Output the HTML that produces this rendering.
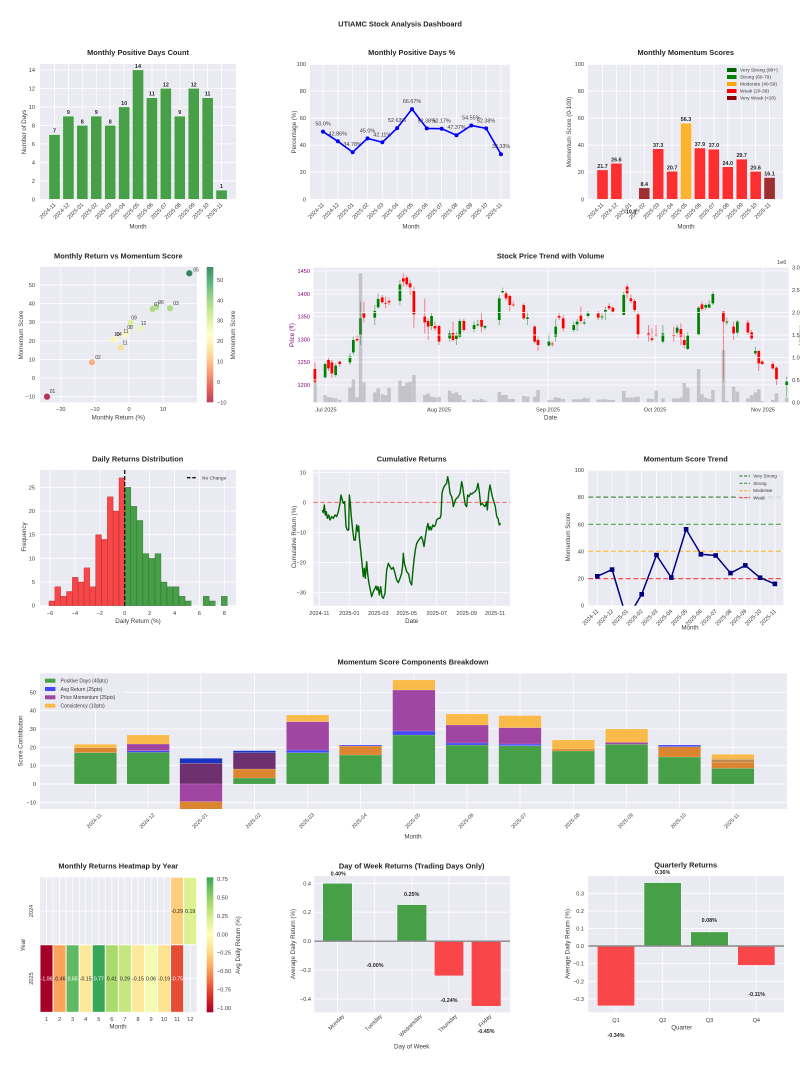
<!DOCTYPE html>
<html><head><meta charset="utf-8"><style>
html,body{margin:0;padding:0;background:#fff}
svg{display:block;font-family:"Liberation Sans",Arial,sans-serif}
.ti{font-size:7.4px;font-weight:bold;fill:#262626;text-anchor:middle}
.tk{font-size:5.6px;fill:#3a3a3a}
.e{text-anchor:end}
.m{text-anchor:middle}
.al{font-size:6.2px;fill:#3a3a3a;text-anchor:middle}
.vl{font-size:5.4px;font-weight:bold;fill:#262626;text-anchor:middle}
.pl{font-size:5.4px;fill:#3a3a3a;text-anchor:middle}
.lg{font-size:4.8px;fill:#3a3a3a}
.bg{fill:#eaeaf2}
.gr{stroke:#fff;stroke-width:0.8;fill:none}
</style></head><body>
<svg width="800" height="1066" viewBox="0 0 800 1066">
<defs>
<linearGradient id="rg" x1="0" y1="0" x2="0" y2="1">
<stop offset="0" stop-color="#006837"/><stop offset=".1" stop-color="#1a9850"/><stop offset=".2" stop-color="#66bd63"/><stop offset=".3" stop-color="#a6d96a"/><stop offset=".4" stop-color="#d9ef8b"/><stop offset=".5" stop-color="#ffffbf"/><stop offset=".6" stop-color="#fee08b"/><stop offset=".7" stop-color="#fdae61"/><stop offset=".8" stop-color="#f46d43"/><stop offset=".9" stop-color="#d73027"/><stop offset="1" stop-color="#a50026"/>
</linearGradient>
<linearGradient id="hm" x1="0" y1="0" x2="0" y2="1">
<stop offset="0" stop-color="#37a658"/><stop offset=".073" stop-color="#66bd63"/><stop offset=".189" stop-color="#a6d96a"/><stop offset=".305" stop-color="#d9ef8b"/><stop offset=".421" stop-color="#ffffbf"/><stop offset=".537" stop-color="#fee08b"/><stop offset=".652" stop-color="#fdae61"/><stop offset=".768" stop-color="#f46d43"/><stop offset=".884" stop-color="#d73027"/><stop offset="1" stop-color="#a50026"/>
</linearGradient>
<clipPath id="c5"><rect x="313.5" y="267.7" width="475.2" height="134.6"/></clipPath>
<clipPath id="c7"><rect x="313.3" y="470" width="196.7" height="135.7"/></clipPath>
<clipPath id="c8"><rect x="588.3" y="470" width="195" height="135.7"/></clipPath>
<clipPath id="c9"><rect x="40" y="673.3" width="747" height="135.7"/></clipPath>
</defs>

<text class="ti" x="400" y="26.5">UTIAMC Stock Analysis Dashboard</text>

<!-- ============ Chart 1 ============ -->
<text class="ti" x="138" y="55">Monthly Positive Days Count</text>
<rect class="bg" x="40" y="64" width="196" height="135.3"/>
<path class="gr" d="M40 199.3H236M40 180.8H236M40 162.3H236M40 143.9H236M40 125.4H236M40 106.9H236M40 88.4H236M40 69.9H236M54.5 64V199.3M68.4 64V199.3M82.3 64V199.3M96.3 64V199.3M110.2 64V199.3M124.1 64V199.3M138 64V199.3M151.9 64V199.3M165.9 64V199.3M179.8 64V199.3M193.7 64V199.3M207.6 64V199.3M221.5 64V199.3"/>
<g fill="#47a048" stroke="#fff" stroke-width="0.4">
<rect x="48.95" y="134.6" width="11.1" height="64.7"/>
<rect x="62.87" y="116.1" width="11.1" height="83.2"/>
<rect x="76.79" y="125.4" width="11.1" height="73.9"/>
<rect x="90.71" y="116.1" width="11.1" height="83.2"/>
<rect x="104.63" y="125.4" width="11.1" height="73.9"/>
<rect x="118.55" y="106.9" width="11.1" height="92.4"/>
<rect x="132.47" y="69.9" width="11.1" height="129.4"/>
<rect x="146.39" y="97.7" width="11.1" height="101.6"/>
<rect x="160.31" y="88.4" width="11.1" height="110.9"/>
<rect x="174.23" y="116.1" width="11.1" height="83.2"/>
<rect x="188.15" y="88.4" width="11.1" height="110.9"/>
<rect x="202.07" y="97.7" width="11.1" height="101.6"/>
<rect x="215.99" y="190.1" width="11.1" height="9.2"/>
</g>
<g class="vl">
<text x="54.5" y="132.6">7</text><text x="68.4" y="114.1">9</text><text x="82.3" y="123.4">8</text><text x="96.3" y="114.1">9</text><text x="110.2" y="123.4">8</text><text x="124.1" y="104.9">10</text><text x="138" y="67.9">14</text><text x="151.9" y="95.7">11</text><text x="165.9" y="86.4">12</text><text x="179.8" y="114.1">9</text><text x="193.7" y="86.4">12</text><text x="207.6" y="95.7">11</text><text x="221.5" y="188.1">1</text>
</g>
<g class="tk e">
<text x="35" y="201.3">0</text><text x="35" y="182.8">2</text><text x="35" y="164.3">4</text><text x="35" y="145.9">6</text><text x="35" y="127.4">8</text><text x="35" y="108.9">10</text><text x="35" y="90.4">12</text><text x="35" y="71.9">14</text>
<text transform="translate(56,205) rotate(-45)">2024-11</text>
<text transform="translate(69.9,205) rotate(-45)">2024-12</text>
<text transform="translate(83.8,205) rotate(-45)">2025-01</text>
<text transform="translate(97.8,205) rotate(-45)">2025-02</text>
<text transform="translate(111.7,205) rotate(-45)">2025-03</text>
<text transform="translate(125.6,205) rotate(-45)">2025-04</text>
<text transform="translate(139.5,205) rotate(-45)">2025-05</text>
<text transform="translate(153.4,205) rotate(-45)">2025-06</text>
<text transform="translate(167.4,205) rotate(-45)">2025-07</text>
<text transform="translate(181.3,205) rotate(-45)">2025-08</text>
<text transform="translate(195.2,205) rotate(-45)">2025-09</text>
<text transform="translate(209.1,205) rotate(-45)">2025-10</text>
<text transform="translate(223,205) rotate(-45)">2025-11</text>
</g>
<text class="al" x="138" y="228.5">Month</text>
<text class="al" transform="translate(26,132) rotate(-90)">Number of Days</text>

<!-- ============ Chart 2 ============ -->
<text class="ti" x="411.7" y="55">Monthly Positive Days %</text>
<rect class="bg" x="310" y="64" width="200" height="135.3"/>
<path class="gr" d="M310 199.3H510M310 172.2H510M310 145.2H510M310 118.1H510M310 91.1H510M310 64.3H510M323 64V199.3M337.8 64V199.3M352.7 64V199.3M367.5 64V199.3M382.3 64V199.3M397.2 64V199.3M412 64V199.3M426.8 64V199.3M441.6 64V199.3M456.5 64V199.3M471.3 64V199.3M486.1 64V199.3M501 64V199.3"/>
<polyline points="323,131.65 337.83,141.3 352.66,152.2 367.49,138.4 382.32,142.3 397.15,128.1 411.98,109.1 426.81,128.4 441.64,128.7 456.47,135.2 471.3,125.5 486.13,128.4 500.96,154.2" fill="none" stroke="#0000ff" stroke-width="1.6"/>
<g fill="#0000ff">
<circle cx="323" cy="131.65" r="2"/><circle cx="337.83" cy="141.3" r="2"/><circle cx="352.66" cy="152.2" r="2"/><circle cx="367.49" cy="138.4" r="2"/><circle cx="382.32" cy="142.3" r="2"/><circle cx="397.15" cy="128.1" r="2"/><circle cx="411.98" cy="109.1" r="2"/><circle cx="426.81" cy="128.4" r="2"/><circle cx="441.64" cy="128.7" r="2"/><circle cx="456.47" cy="135.2" r="2"/><circle cx="471.3" cy="125.5" r="2"/><circle cx="486.13" cy="128.4" r="2"/><circle cx="500.96" cy="154.2" r="2"/>
</g>
<g class="pl">
<text x="323" y="125.6">50.0%</text><text x="337.8" y="135.3">42.86%</text><text x="352.7" y="146.2">34.78%</text><text x="367.5" y="132.4">45.0%</text><text x="382.3" y="136.3">42.11%</text><text x="397.2" y="122.1">52.63%</text><text x="412" y="103.1">66.67%</text><text x="426.8" y="122.4">52.38%</text><text x="441.6" y="122.7">52.17%</text><text x="456.5" y="129.2">47.37%</text><text x="471.3" y="119.5">54.55%</text><text x="486.1" y="122.4">52.38%</text><text x="501" y="148.2">33.33%</text>
</g>
<g class="tk e">
<text x="306" y="201.3">0</text><text x="306" y="174.2">20</text><text x="306" y="147.2">40</text><text x="306" y="120.1">60</text><text x="306" y="93.1">80</text><text x="306" y="66">100</text>
<text transform="translate(324.5,205) rotate(-45)">2024-11</text>
<text transform="translate(339.3,205) rotate(-45)">2024-12</text>
<text transform="translate(354.2,205) rotate(-45)">2025-01</text>
<text transform="translate(369,205) rotate(-45)">2025-02</text>
<text transform="translate(383.8,205) rotate(-45)">2025-03</text>
<text transform="translate(398.7,205) rotate(-45)">2025-04</text>
<text transform="translate(413.5,205) rotate(-45)">2025-05</text>
<text transform="translate(428.3,205) rotate(-45)">2025-06</text>
<text transform="translate(443.1,205) rotate(-45)">2025-07</text>
<text transform="translate(458,205) rotate(-45)">2025-08</text>
<text transform="translate(472.8,205) rotate(-45)">2025-09</text>
<text transform="translate(487.6,205) rotate(-45)">2025-10</text>
<text transform="translate(502.5,205) rotate(-45)">2025-11</text>
</g>
<text class="al" x="411" y="228.5">Month</text>
<text class="al" transform="translate(296,132) rotate(-90)">Percentage (%)</text>

<!-- ============ Chart 3 ============ -->
<text class="ti" x="685.7" y="55">Monthly Momentum Scores</text>
<rect class="bg" x="588" y="64" width="195" height="135.3"/>
<path class="gr" d="M588 199.3H783M588 172.2H783M588 145.2H783M588 118.1H783M588 91.1H783M588 64.3H783M602.5 64V199.3M616.4 64V199.3M630.3 64V199.3M644.3 64V199.3M658.2 64V199.3M672.1 64V199.3M686 64V199.3M699.9 64V199.3M713.9 64V199.3M727.8 64V199.3M741.7 64V199.3M755.6 64V199.3M769.5 64V199.3"/>
<g stroke="#fff" stroke-width="0.4">
<rect x="596.95" y="169.9" width="11.1" height="29.4" fill="#fb2f30"/>
<rect x="610.87" y="163.3" width="11.1" height="36" fill="#fb2f30"/>
<rect x="638.71" y="187.9" width="11.1" height="11.4" fill="#9e2f30"/>
<rect x="652.63" y="148.8" width="11.1" height="50.5" fill="#fb2f30"/>
<rect x="666.55" y="171.3" width="11.1" height="28" fill="#fb2f30"/>
<rect x="680.47" y="123.1" width="11.1" height="76.2" fill="#fbb330"/>
<rect x="694.39" y="148" width="11.1" height="51.3" fill="#fb2f30"/>
<rect x="708.31" y="149.2" width="11.1" height="50.1" fill="#fb2f30"/>
<rect x="722.23" y="166.8" width="11.1" height="32.5" fill="#fb2f30"/>
<rect x="736.15" y="159.1" width="11.1" height="40.2" fill="#fb2f30"/>
<rect x="750.07" y="171.4" width="11.1" height="27.9" fill="#fb2f30"/>
<rect x="763.99" y="177.5" width="11.1" height="21.8" fill="#9e2f30"/>
</g>
<g class="vl">
<text x="602.5" y="167.9">21.7</text><text x="616.4" y="161.3">26.6</text><text x="630.3" y="213.5">-10.0</text><text x="644.3" y="185.9">8.4</text><text x="658.2" y="146.8">37.3</text><text x="672.1" y="169.3">20.7</text><text x="686" y="121.1">56.3</text><text x="699.9" y="146">37.9</text><text x="713.9" y="147.2">37.0</text><text x="727.8" y="164.8">24.0</text><text x="741.7" y="157.1">29.7</text><text x="755.6" y="169.4">20.6</text><text x="769.5" y="175.5">16.1</text>
</g>
<rect x="724.5" y="65.5" width="57.5" height="36" fill="#eaeaf2" opacity="0.85" rx="1"/>
<rect x="727" y="68" width="9.5" height="4" fill="#006400"/>
<rect x="727" y="75" width="9.5" height="4" fill="#008000"/>
<rect x="727" y="82" width="9.5" height="4" fill="#ffa500"/>
<rect x="727" y="89" width="9.5" height="4" fill="#ff0000"/>
<rect x="727" y="96" width="9.5" height="4" fill="#8b0000"/>
<g class="lg">
<text x="740" y="71.7">Very Strong (80+)</text><text x="740" y="78.7">Strong (60-79)</text><text x="740" y="85.7">Moderate (40-59)</text><text x="740" y="92.7">Weak (20-39)</text><text x="740" y="99.7">Very Weak (&lt;20)</text>
</g>
<g class="tk e">
<text x="584" y="201.3">0</text><text x="584" y="174.2">20</text><text x="584" y="147.2">40</text><text x="584" y="120.1">60</text><text x="584" y="93.1">80</text><text x="584" y="66">100</text>
<text transform="translate(604,205) rotate(-45)">2024-11</text>
<text transform="translate(617.9,205) rotate(-45)">2024-12</text>
<text transform="translate(631.8,205) rotate(-45)">2025-01</text>
<text transform="translate(645.8,205) rotate(-45)">2025-02</text>
<text transform="translate(659.7,205) rotate(-45)">2025-03</text>
<text transform="translate(673.6,205) rotate(-45)">2025-04</text>
<text transform="translate(687.5,205) rotate(-45)">2025-05</text>
<text transform="translate(701.4,205) rotate(-45)">2025-06</text>
<text transform="translate(715.4,205) rotate(-45)">2025-07</text>
<text transform="translate(729.3,205) rotate(-45)">2025-08</text>
<text transform="translate(743.2,205) rotate(-45)">2025-09</text>
<text transform="translate(757.1,205) rotate(-45)">2025-10</text>
<text transform="translate(771,205) rotate(-45)">2025-11</text>
</g>
<text class="al" x="686" y="228.5">Month</text>
<text class="al" transform="translate(571,132) rotate(-90)">Momentum Score (0-100)</text>

<!-- ============ Chart 4 scatter ============ -->
<text class="ti" x="118.3" y="258.3">Monthly Return vs Momentum Score</text>
<rect class="bg" x="40" y="266.7" width="157" height="135.6"/>
<path class="gr" d="M60.8 266.7V402.3M94.9 266.7V402.3M129 266.7V402.3M163.1 266.7V402.3M40 396.7H197M40 378.1H197M40 359.5H197M40 340.9H197M40 322.2H197M40 303.6H197M40 285H197"/>
<g opacity="0.78" stroke="#fff" stroke-width="0.3">
<circle cx="189.3" cy="273.3" r="3.3" fill="#006837"/>
<circle cx="156" cy="307" r="3.3" fill="#98d368"/>
<circle cx="152.7" cy="309" r="3.3" fill="#a0d669"/>
<circle cx="170" cy="308.3" r="3.3" fill="#9ed569"/>
<circle cx="130.7" cy="322.7" r="3.3" fill="#d9ef8b"/>
<circle cx="140" cy="328.3" r="3.3" fill="#ebf7a4"/>
<circle cx="126.7" cy="332.3" r="3.3" fill="#fafdb8"/>
<circle cx="124" cy="335" r="3.3" fill="#fff8b4"/>
<circle cx="115" cy="339.3" r="3.3" fill="#fff3ab"/>
<circle cx="113.3" cy="339.3" r="3.3" fill="#fff3ab"/>
<circle cx="120.7" cy="347.7" r="3.3" fill="#fedd88"/>
<circle cx="92" cy="362.3" r="3.3" fill="#fba05a"/>
<circle cx="47" cy="396.7" r="3.3" fill="#a50026"/>
</g>
<g class="pl" style="font-size:5px">
<text x="196" y="271.5">05</text><text x="161" y="304">06</text><text x="157" y="306">07</text><text x="176" y="305">03</text><text x="134" y="319.5">09</text><text x="143.5" y="325">12</text><text x="130" y="329">08</text><text x="126" y="333">11</text><text x="119" y="336">04</text><text x="117" y="336">10</text><text x="125" y="344.5">11</text><text x="98" y="359">02</text><text x="52.5" y="393">01</text>
</g>
<g class="tk">
<text class="e" x="35" y="398.7">−10</text><text class="e" x="35" y="380.1">0</text><text class="e" x="35" y="361.5">10</text><text class="e" x="35" y="342.9">20</text><text class="e" x="35" y="324.2">30</text><text class="e" x="35" y="305.6">40</text><text class="e" x="35" y="287">50</text>
<text class="m" x="60.8" y="411">−20</text><text class="m" x="94.9" y="411">−10</text><text class="m" x="129" y="411">0</text><text class="m" x="163.1" y="411">10</text>
</g>
<text class="al" x="118.3" y="419.7">Monthly Return (%)</text>
<text class="al" transform="translate(23,335) rotate(-90)">Momentum Score</text>
<rect x="206.7" y="267" width="6.6" height="135.3" fill="url(#rg)" opacity="0.75"/>
<g class="tk">
<text x="217" y="281.9">50</text><text x="217" y="302.3">40</text><text x="217" y="322.7">30</text><text x="217" y="343.1">20</text><text x="217" y="363.5">10</text><text x="217" y="383.9">0</text><text x="217" y="404.3">−10</text>
</g>
<text class="al" transform="translate(235,335) rotate(-90)">Momentum Score</text>

<!-- ============ Chart 5 candlestick ============ -->
<text class="ti" x="550.6" y="258.3">Stock Price Trend with Volume</text>
<rect class="bg" x="313.5" y="267.7" width="475.2" height="134.6"/>
<path class="gr" d="M313.5 271H788.7M313.5 293.8H788.7M313.5 316.6H788.7M313.5 339.4H788.7M313.5 362.2H788.7M313.5 385H788.7M326 267.7V402.3M439 267.7V402.3M548 267.7V402.3M655 267.7V402.3M763 267.7V402.3"/>
<g clip-path="url(#c5)">
<g transform="translate(270,245) scale(0.34014,0.33333)">
<path vector-effect="non-scaling-stroke" stroke="#008000" stroke-opacity="0.5" stroke-width="0.9" fill="none" d="M162 352V400M193 355V395M235 325V360M245 275V330M266 170V300M308 180V240M318 145V190M382 105V180M475 203V255M528 255V290M548 260V300M558 222V280M600 230V262M611 225V245M632 240V255M674 150V240M684 128V145M757 200V240M820 265V305M840 222V290M893 230V262M903 222V258M924 222V240M935 198V218M976 205V225M986 185V225M1040 140V210M1155 240V295M1197 240V275M1228 262V315M1260 185V272M1281 175V195M1291 165V190M1302 140V180M1343 218V240M1374 225V275M1427 305V330M1519 395V455"/>
<path vector-effect="non-scaling-stroke" stroke="#ff0000" stroke-opacity="0.5" stroke-width="0.9" fill="none" d="M132 352V415M172 338V378M182 345V398M205 348V365M256 270V290M276 170V232M330 150V175M340 155V190M350 160V180M392 85V125M402 92V125M412 105V150M423 125V248M455 160V265M465 220V285M485 230V258M497 240V300M538 230V290M570 222V260M622 205V262M694 138V168M705 148V200M715 170V185M746 175V225M778 240V295M788 275V318M830 290V305M850 205V225M862 210V260M914 185V235M965 198V225M997 175V195M1008 185V205M1050 118V160M1061 148V175M1072 162V205M1082 200V280M1113 240V290M1123 250V290M1135 240V275M1187 245V290M1208 235V300M1218 265V310M1270 170V198M1333 198V410M1363 230V285M1405 225V270M1416 255V285M1437 315V378M1447 345V360M1478 350V375M1489 365V420"/>
<path fill="#008000" d="M158 357h8V397h-8zM189 362h8V390h-8zM231 335h8V352h-8zM241 285h8V322h-8zM262 220h8V270h-8zM304 198h8V218h-8zM314 162h8V187h-8zM378 118h8V168h-8zM471 213h8V243h-8zM524 265h8V280h-8zM544 272h8V282h-8zM554 228h8V275h-8zM596 240h8V252h-8zM607 238h8V241h-8zM628 243h8V248h-8zM670 160h8V225h-8zM680 138h8V142h-8zM753 217h8V222h-8zM816 290h8V302h-8zM836 245h8V275h-8zM889 240h8V255h-8zM899 230h8V238h-8zM920 232h8V235h-8zM931 205h8V213h-8zM972 214h8V217h-8zM982 195h8V200h-8zM1036 150h8V210h-8zM1151 265h8V290h-8zM1193 248h8V263h-8zM1224 272h8V312h-8zM1256 188h8V268h-8zM1277 180h8V188h-8zM1287 178h8V188h-8zM1298 147h8V175h-8zM1339 230h8V233h-8zM1370 230h8V263h-8zM1423 318h8V325h-8zM1515 410h8V420h-8z"/>
<path fill="#ff0000" d="M128 372h8V410h-8zM168 345h8V370h-8zM178 352h8V385h-8zM201 350h8V357h-8zM252 282h8V286h-8zM272 205h8V218h-8zM326 157h8V172h-8zM336 174h8V176h-8zM346 168h8V172h-8zM388 100h8V110h-8zM398 98h8V118h-8zM408 115h8V127h-8zM419 138h8V208h-8zM451 215h8V232h-8zM461 228h8V245h-8zM481 243h8V250h-8zM493 243h8V290h-8zM534 264h8V285h-8zM566 228h8V255h-8zM618 225h8V245h-8zM690 145h8V160h-8zM701 153h8V180h-8zM711 179h8V181h-8zM742 180h8V220h-8zM774 245h8V290h-8zM784 285h8V300h-8zM826 296h8V298h-8zM846 213h8V218h-8zM858 220h8V250h-8zM910 212h8V228h-8zM961 205h8V218h-8zM993 183h8V190h-8zM1004 188h8V200h-8zM1046 125h8V145h-8zM1057 160h8V168h-8zM1068 168h8V195h-8zM1078 208h8V268h-8zM1109 265h8V272h-8zM1119 280h8V285h-8zM1131 268h8V272h-8zM1183 270h8V273h-8zM1204 252h8V275h-8zM1214 285h8V300h-8zM1266 178h8V192h-8zM1329 200h8V230h-8zM1359 245h8V265h-8zM1401 233h8V262h-8zM1412 262h8V280h-8zM1433 318h8V355h-8zM1443 350h8V357h-8zM1474 357h8V370h-8zM1485 368h8V403h-8z"/>
</g>
<path class="gr" d="M313.5 379.9H788.7M313.5 357.4H788.7M313.5 335H788.7M313.5 312.6H788.7M313.5 290.1H788.7"/>
<g transform="translate(270,245) scale(0.34014,0.33333)">
<path fill="#808080" fill-opacity="0.36" d="M127 410h10.3V472h-10.3zM157 450h10.3V472h-10.3zM167 457h10.3V472h-10.3zM177 458h10.3V472h-10.3zM188 460h10.3V472h-10.3zM200 465h10.3V472h-10.3zM230 428h10.3V472h-10.3zM240 403h10.3V472h-10.3zM251 457h10.3V472h-10.3zM261 85h10.3V472h-10.3zM271 412h10.3V472h-10.3zM303 442h10.3V472h-10.3zM313 430h10.3V472h-10.3zM325 448h10.3V472h-10.3zM335 450h10.3V472h-10.3zM345 428h10.3V472h-10.3zM377 407h10.3V472h-10.3zM387 423h10.3V472h-10.3zM397 413h10.3V472h-10.3zM407 410h10.3V472h-10.3zM418 390h10.3V472h-10.3zM450 450h10.3V472h-10.3zM460 445h10.3V472h-10.3zM470 455h10.3V472h-10.3zM480 457h10.3V472h-10.3zM492 456h10.3V472h-10.3zM523 437h10.3V472h-10.3zM533 445h10.3V472h-10.3zM543 442h10.3V472h-10.3zM553 450h10.3V472h-10.3zM565 465h10.3V472h-10.3zM595 463h10.3V472h-10.3zM606 465h10.3V472h-10.3zM617 462h10.3V472h-10.3zM627 467h10.3V472h-10.3zM669 441h10.3V472h-10.3zM679 450h10.3V472h-10.3zM689 450h10.3V472h-10.3zM700 462h10.3V472h-10.3zM710 462h10.3V472h-10.3zM741 453h10.3V472h-10.3zM752 455h10.3V472h-10.3zM773 455h10.3V472h-10.3zM783 435h10.3V472h-10.3zM815 465h10.3V472h-10.3zM825 464h10.3V472h-10.3zM835 457h10.3V472h-10.3zM845 459h10.3V472h-10.3zM857 462h10.3V472h-10.3zM888 463h10.3V472h-10.3zM898 463h10.3V472h-10.3zM909 463h10.3V472h-10.3zM919 459h10.3V472h-10.3zM930 460h10.3V472h-10.3zM960 464h10.3V472h-10.3zM971 463h10.3V472h-10.3zM981 463h10.3V472h-10.3zM992 465h10.3V472h-10.3zM1003 465h10.3V472h-10.3zM1035 438h10.3V472h-10.3zM1045 458h10.3V472h-10.3zM1056 457h10.3V472h-10.3zM1067 457h10.3V472h-10.3zM1077 455h10.3V472h-10.3zM1108 460h10.3V472h-10.3zM1118 462h10.3V472h-10.3zM1130 437h10.3V472h-10.3zM1150 460h10.3V472h-10.3zM1182 460h10.3V472h-10.3zM1192 460h10.3V472h-10.3zM1203 458h10.3V472h-10.3zM1213 414h10.3V472h-10.3zM1223 428h10.3V472h-10.3zM1255 372h10.3V472h-10.3zM1265 448h10.3V472h-10.3zM1276 458h10.3V472h-10.3zM1286 462h10.3V472h-10.3zM1297 435h10.3V472h-10.3zM1328 315h10.3V472h-10.3zM1338 468h10.3V472h-10.3zM1358 425h10.3V472h-10.3zM1369 440h10.3V472h-10.3zM1400 460h10.3V472h-10.3zM1411 450h10.3V472h-10.3zM1422 442h10.3V472h-10.3zM1432 433h10.3V472h-10.3zM1442 468h10.3V472h-10.3zM1473 465h10.3V472h-10.3zM1484 445h10.3V472h-10.3zM1514 458h10.3V472h-10.3z"/>
</g>
</g>
<g class="tk" style="fill:#800080">
<text class="e" x="310" y="273">1450</text><text class="e" x="310" y="295.8">1400</text><text class="e" x="310" y="318.6">1350</text><text class="e" x="310" y="341.4">1300</text><text class="e" x="310" y="364.2">1250</text><text class="e" x="310" y="387">1200</text>
</g>
<text class="al" style="fill:#800080" transform="translate(294,335) rotate(-90)">Price (₹)</text>
<g class="tk">
<text x="792" y="404.3">0.0</text><text x="792" y="381.9">0.5</text><text x="792" y="359.4">1.0</text><text x="792" y="337">1.5</text><text x="792" y="314.6">2.0</text><text x="792" y="292.1">2.5</text><text x="792" y="269.7">3.0</text>
<text x="777" y="264">1e6</text>
<text class="m" x="326" y="411.5">Jul 2025</text><text class="m" x="439" y="411.5">Aug 2025</text><text class="m" x="548" y="411.5">Sep 2025</text><text class="m" x="655" y="411.5">Oct 2025</text><text class="m" x="763" y="411.5">Nov 2025</text>
</g>
<text class="al" x="550.6" y="419.7">Date</text>
<text class="al" style="fill:#808080" transform="translate(803,335) rotate(-90)">Volume</text>

<!-- ============ Chart 6 histogram ============ -->
<text class="ti" x="137.7" y="461.5">Daily Returns Distribution</text>
<rect class="bg" x="40" y="470" width="196" height="135.7"/>
<path class="gr" d="M40 605.7H236M40 582H236M40 558.3H236M40 534.7H236M40 511H236M40 487.3H236M50 470V605.7M74.9 470V605.7M99.8 470V605.7M124.7 470V605.7M149.6 470V605.7M174.5 470V605.7M199.4 470V605.7M224.3 470V605.7"/>
<g fill="#f94649" stroke="#7a1e1e" stroke-opacity="0.55" stroke-width="0.5">
<rect x="49" y="600.96" width="5.83" height="4.74"/>
<rect x="54.83" y="586.76" width="5.83" height="18.94"/>
<rect x="60.66" y="596.23" width="5.83" height="9.47"/>
<rect x="66.49" y="591.49" width="5.83" height="14.21"/>
<rect x="72.32" y="577.28" width="5.83" height="28.42"/>
<rect x="78.15" y="582.02" width="5.83" height="23.68"/>
<rect x="83.98" y="567.81" width="5.83" height="37.89"/>
<rect x="89.81" y="586.76" width="5.83" height="18.94"/>
<rect x="95.64" y="534.66" width="5.83" height="71.04"/>
<rect x="101.47" y="539.4" width="5.83" height="66.3"/>
<rect x="107.3" y="496.77" width="5.83" height="108.93"/>
<rect x="113.13" y="510.98" width="5.83" height="94.72"/>
<rect x="118.96" y="477.83" width="5.83" height="127.87"/>
</g>
<g fill="#47a048" stroke="#1e4a1e" stroke-opacity="0.55" stroke-width="0.5">
<rect x="124.8" y="487.3" width="6.03" height="118.4"/>
<rect x="130.83" y="506.24" width="6.03" height="99.46"/>
<rect x="136.86" y="520.45" width="6.03" height="85.25"/>
<rect x="142.89" y="553.6" width="6.03" height="52.1"/>
<rect x="148.92" y="558.34" width="6.03" height="47.36"/>
<rect x="154.95" y="553.6" width="6.03" height="52.1"/>
<rect x="160.98" y="582.02" width="6.03" height="23.68"/>
<rect x="167.01" y="586.76" width="6.03" height="18.94"/>
<rect x="173.04" y="586.76" width="6.03" height="18.94"/>
<rect x="179.07" y="596.23" width="6.03" height="9.47"/>
<rect x="185.1" y="600.96" width="6.03" height="4.74"/>
<rect x="203.19" y="596.23" width="6.03" height="9.47"/>
<rect x="209.22" y="600.96" width="6.03" height="4.74"/>
<rect x="221.28" y="596.23" width="6.03" height="9.47"/>
</g>
<line x1="124.7" y1="470" x2="124.7" y2="605.7" stroke="#111" stroke-width="1.3" stroke-dasharray="4 2"/>
<line x1="187" y1="477.7" x2="197" y2="477.7" stroke="#111" stroke-width="1.3" stroke-dasharray="3.5 1.8"/>
<text class="lg" x="202" y="479.5">No Change</text>
<g class="tk">
<text class="e" x="35" y="607.7">0</text><text class="e" x="35" y="584">5</text><text class="e" x="35" y="560.3">10</text><text class="e" x="35" y="536.7">15</text><text class="e" x="35" y="513">20</text><text class="e" x="35" y="489.3">25</text>
<text class="m" x="50" y="615">−6</text><text class="m" x="74.9" y="615">−4</text><text class="m" x="99.8" y="615">−2</text><text class="m" x="124.7" y="615">0</text><text class="m" x="149.6" y="615">2</text><text class="m" x="174.5" y="615">4</text><text class="m" x="199.4" y="615">6</text><text class="m" x="224.3" y="615">8</text>
</g>
<text class="al" x="138" y="623.2">Daily Return (%)</text>
<text class="al" transform="translate(26,537) rotate(-90)">Frequency</text>

<!-- ============ Chart 7 cumulative ============ -->
<text class="ti" x="411.7" y="461.5">Cumulative Returns</text>
<rect class="bg" x="313.3" y="470" width="196.7" height="135.7"/>
<path class="gr" d="M313.3 472.3H510M313.3 502.4H510M313.3 532.5H510M313.3 562.6H510M313.3 592.6H510M319.3 470V605.7M349.3 470V605.7M378.3 470V605.7M406.7 470V605.7M436.7 470V605.7M466.7 470V605.7M495 470V605.7"/>
<line x1="313.3" y1="502.4" x2="510" y2="502.4" stroke="#ff0000" stroke-opacity="0.55" stroke-width="1.1" stroke-dasharray="4.5 2.5"/>
<g clip-path="url(#c7)">
<polyline transform="translate(270,450) scale(0.33333)" vector-effect="non-scaling-stroke" fill="none" stroke="#006400" stroke-width="1.4" stroke-linejoin="round" points="157,180 160,188 163,165 166,195 169,185 172,205 176,195 180,210 185,200 190,205 195,195 200,200 205,185 210,160 213,135 217,150 220,160 224,155 228,230 232,240 236,240 238,135 241,160 244,200 248,240 252,270 256,270 260,225 264,245 266,228 268,262 272,300 276,340 280,380 283,355 286,385 290,335 293,370 296,395 300,415 305,440 310,425 315,415 318,408 321,420 324,410 328,435 332,410 336,440 340,445 345,430 350,360 355,340 360,350 365,358 370,352 375,370 380,390 385,398 390,385 395,370 398,345 400,310 403,340 406,350 410,365 416,372 420,395 425,405 428,370 432,330 436,300 440,280 445,272 450,265 454,260 458,270 462,290 466,262 470,235 474,220 477,240 480,230 484,240 488,225 492,230 496,225 500,210 505,205 510,205 513,195 516,130 520,115 525,105 530,100 533,80 536,95 540,130 545,140 548,155 550,170 553,160 556,150 560,145 565,140 570,130 575,95 578,110 582,140 586,165 590,170 593,135 597,140 602,130 606,132 610,128 615,125 620,118 624,100 628,125 632,165 636,160 640,165 645,170 650,155 652,180 656,130 660,105 663,120 667,140 670,150 673,160 676,170 680,200 684,205 688,225 692,220"/>
</g>
<g class="tk">
<text class="e" x="306" y="474.3">10</text><text class="e" x="306" y="504.4">0</text><text class="e" x="306" y="534.5">−10</text><text class="e" x="306" y="564.6">−20</text><text class="e" x="306" y="594.6">−30</text>
<text class="m" x="319.3" y="615">2024-11</text><text class="m" x="349.3" y="615">2025-01</text><text class="m" x="378.3" y="615">2025-03</text><text class="m" x="406.7" y="615">2025-05</text><text class="m" x="436.7" y="615">2025-07</text><text class="m" x="466.7" y="615">2025-09</text><text class="m" x="495" y="615">2025-11</text>
</g>
<text class="al" x="411.7" y="623.2">Date</text>
<text class="al" transform="translate(296,537) rotate(-90)">Cumulative Return (%)</text>

<!-- ============ Chart 8 momentum trend ============ -->
<text class="ti" x="685.7" y="461.5">Momentum Score Trend</text>
<rect class="bg" x="588.3" y="470" width="195" height="135.7"/>
<path class="gr" d="M588.3 605.7H783.3M588.3 578.6H783.3M588.3 551.4H783.3M588.3 524.3H783.3M588.3 497.1H783.3M588.3 470.3H783.3M597.3 470V605.7M612.1 470V605.7M626.9 470V605.7M641.7 470V605.7M656.5 470V605.7M671.3 470V605.7M686.1 470V605.7M700.9 470V605.7M715.7 470V605.7M730.5 470V605.7M745.3 470V605.7M760.1 470V605.7M774.9 470V605.7"/>
<g stroke-width="1.2" stroke-dasharray="5 2.5" stroke-opacity="0.7">
<line x1="588.3" x2="783.3" y1="497.1" y2="497.1" stroke="#006400"/>
<line x1="588.3" x2="783.3" y1="524.3" y2="524.3" stroke="#008000"/>
<line x1="588.3" x2="783.3" y1="551.4" y2="551.4" stroke="#ffa500"/>
<line x1="588.3" x2="783.3" y1="578.6" y2="578.6" stroke="#ff0000"/>
</g>
<g clip-path="url(#c8)">
<polyline fill="none" stroke="#000080" stroke-width="1.5" points="597.3,576.3 612.1,569.6 626.9,619.3 641.7,594.3 656.5,555.1 671.3,577.6 686.1,529.3 700.9,554.3 715.7,555.5 730.5,573.1 745.3,565.4 760.1,577.7 774.9,583.9"/>
<g fill="#000080">
<rect x="595" y="574" width="4.6" height="4.6"/><rect x="609.8" y="567.3" width="4.6" height="4.6"/><rect x="639.4" y="592" width="4.6" height="4.6"/><rect x="654.2" y="552.8" width="4.6" height="4.6"/><rect x="669" y="575.3" width="4.6" height="4.6"/><rect x="683.8" y="527" width="4.6" height="4.6"/><rect x="698.6" y="552" width="4.6" height="4.6"/><rect x="713.4" y="553.2" width="4.6" height="4.6"/><rect x="728.2" y="570.8" width="4.6" height="4.6"/><rect x="743" y="563.1" width="4.6" height="4.6"/><rect x="757.8" y="575.4" width="4.6" height="4.6"/><rect x="772.6" y="581.6" width="4.6" height="4.6"/>
</g>
</g>
<rect x="737" y="472" width="45" height="28.5" fill="#eaeaf2" opacity="0.8" rx="1"/>
<g stroke-width="1.2" stroke-dasharray="3 1.6" stroke-opacity="0.75">
<line x1="739.5" x2="750" y1="476" y2="476" stroke="#006400"/>
<line x1="739.5" x2="750" y1="483.3" y2="483.3" stroke="#008000"/>
<line x1="739.5" x2="750" y1="490.6" y2="490.6" stroke="#ffa500"/>
<line x1="739.5" x2="750" y1="497.7" y2="497.7" stroke="#ff0000"/>
</g>
<g class="lg" style="font-size:4.5px">
<text x="753.3" y="477.6">Very Strong</text><text x="753.3" y="484.9">Strong</text><text x="753.3" y="492.2">Moderate</text><text x="753.3" y="499.3">Weak</text>
</g>
<g class="tk e">
<text x="584" y="607.7">0</text><text x="584" y="580.6">20</text><text x="584" y="553.4">40</text><text x="584" y="526.3">60</text><text x="584" y="499.1">80</text><text x="584" y="472">100</text>
<text transform="translate(598.8,611.5) rotate(-45)">2024-11</text>
<text transform="translate(613.6,611.5) rotate(-45)">2024-12</text>
<text transform="translate(628.4,611.5) rotate(-45)">2025-01</text>
<text transform="translate(643.2,611.5) rotate(-45)">2025-02</text>
<text transform="translate(658,611.5) rotate(-45)">2025-03</text>
<text transform="translate(672.8,611.5) rotate(-45)">2025-04</text>
<text transform="translate(687.6,611.5) rotate(-45)">2025-05</text>
<text transform="translate(702.4,611.5) rotate(-45)">2025-06</text>
<text transform="translate(717.2,611.5) rotate(-45)">2025-07</text>
<text transform="translate(732,611.5) rotate(-45)">2025-08</text>
<text transform="translate(746.8,611.5) rotate(-45)">2025-09</text>
<text transform="translate(761.6,611.5) rotate(-45)">2025-10</text>
<text transform="translate(776.4,611.5) rotate(-45)">2025-11</text>
</g>
<text class="al" x="690" y="629.5">Month</text>
<text class="al" transform="translate(570,537) rotate(-90)">Momentum Score</text>

<!-- ============ Chart 9 components ============ -->
<text class="ti" x="413" y="664.3">Momentum Score Components Breakdown</text>
<rect class="bg" x="40" y="673.3" width="747" height="135.7"/>
<path class="gr" d="M40 802.3H787M40 784H787M40 765.7H787M40 747.3H787M40 729H787M40 710.7H787M40 692.3H787M95.4 673.3V809M148.2 673.3V809M201 673.3V809M254.4 673.3V809M307.7 673.3V809M360.5 673.3V809M413.8 673.3V809M467.2 673.3V809M520 673.3V809M573.3 673.3V809M626.7 673.3V809M679.5 673.3V809M732.8 673.3V809"/>
<g clip-path="url(#c9)">
<g transform="translate(0,655) scale(0.51282,0.33333)" stroke="#fff" stroke-width="0.4" vector-effect="non-scaling-stroke">
<rect x="144.5" y="293" width="83" height="94" fill="#47a048"/><rect x="144.5" y="278" width="83" height="15" fill="#dc8530"/><rect x="144.5" y="268" width="83" height="10" fill="#f9ba49"/>
<rect x="247.5" y="292" width="83" height="95" fill="#47a048"/><rect x="247.5" y="287" width="83" height="5" fill="#4646fb"/><rect x="247.5" y="267" width="83" height="20" fill="#a046a2"/><rect x="247.5" y="240" width="83" height="27" fill="#f9ba49"/>
<rect x="350.5" y="310" width="83" height="15" fill="#1a35c4"/><rect x="350.5" y="325" width="83" height="62" fill="#6f3070"/><rect x="350.5" y="387" width="83" height="53" fill="#a046a2"/><rect x="350.5" y="440" width="83" height="30" fill="#dc8530"/>
<rect x="454.5" y="369" width="83" height="18" fill="#47a048"/><rect x="454.5" y="342" width="83" height="27" fill="#dc8530"/><rect x="454.5" y="293" width="83" height="49" fill="#6f3070"/><rect x="454.5" y="287" width="83" height="6" fill="#1a35c4"/>
<rect x="558.5" y="293" width="83" height="94" fill="#47a048"/><rect x="558.5" y="285" width="83" height="8" fill="#4646fb"/><rect x="558.5" y="200" width="83" height="85" fill="#a046a2"/><rect x="558.5" y="180" width="83" height="20" fill="#f9ba49"/>
<rect x="661.5" y="300" width="83" height="87" fill="#47a048"/><rect x="661.5" y="273" width="83" height="27" fill="#dc8530"/><rect x="661.5" y="270" width="83" height="3" fill="#4646fb"/>
<rect x="765.5" y="240" width="83" height="147" fill="#47a048"/><rect x="765.5" y="228" width="83" height="12" fill="#4646fb"/><rect x="765.5" y="105" width="83" height="123" fill="#a046a2"/><rect x="765.5" y="75" width="83" height="30" fill="#f9ba49"/>
<rect x="869.5" y="270" width="83" height="117" fill="#47a048"/><rect x="869.5" y="264" width="83" height="6" fill="#4646fb"/><rect x="869.5" y="210" width="83" height="54" fill="#a046a2"/><rect x="869.5" y="177" width="83" height="33" fill="#f9ba49"/>
<rect x="972.5" y="272" width="83" height="115" fill="#47a048"/><rect x="972.5" y="267" width="83" height="5" fill="#4646fb"/><rect x="972.5" y="218" width="83" height="49" fill="#a046a2"/><rect x="972.5" y="182" width="83" height="36" fill="#f9ba49"/>
<rect x="1076.5" y="288" width="83" height="99" fill="#47a048"/><rect x="1076.5" y="282" width="83" height="6" fill="#dc8530"/><rect x="1076.5" y="255" width="83" height="27" fill="#f9ba49"/>
<rect x="1180.5" y="268" width="83" height="119" fill="#47a048"/><rect x="1180.5" y="262" width="83" height="6" fill="#a046a2"/><rect x="1180.5" y="222" width="83" height="40" fill="#f9ba49"/>
<rect x="1283.5" y="306" width="83" height="81" fill="#47a048"/><rect x="1283.5" y="275" width="83" height="31" fill="#dc8530"/><rect x="1283.5" y="270" width="83" height="5" fill="#4646fb"/>
<rect x="1387.5" y="340" width="83" height="47" fill="#47a048"/><rect x="1387.5" y="322" width="83" height="18" fill="#dc8530"/><rect x="1387.5" y="313" width="83" height="9" fill="#c08a4e"/><rect x="1387.5" y="298" width="83" height="15" fill="#f9ba49"/>
</g>
</g>
<rect x="43" y="675.5" width="82" height="34" fill="#eaeaf2" opacity="0.8" rx="1"/>
<rect x="45" y="678.7" width="10.4" height="4" fill="#47a048"/>
<rect x="45" y="687" width="10.4" height="4" fill="#4646fb"/>
<rect x="45" y="695.3" width="10.4" height="4" fill="#a046a2"/>
<rect x="45" y="703.7" width="10.4" height="4" fill="#f9ba49"/>
<g class="lg" style="font-size:5px">
<text x="60.5" y="682.5">Positive Days (40pts)</text><text x="60.5" y="690.8">Avg Return (25pts)</text><text x="60.5" y="699.1">Price Momentum (25pts)</text><text x="60.5" y="707.5">Consistency (10pts)</text>
</g>
<g class="tk">
<text class="e" x="36" y="804.3">−10</text><text class="e" x="36" y="786">0</text><text class="e" x="36" y="767.7">10</text><text class="e" x="36" y="749.3">20</text><text class="e" x="36" y="731">30</text><text class="e" x="36" y="712.7">40</text><text class="e" x="36" y="694.3">50</text>
</g>
<g class="tk m" style="font-size:5.2px">
<text transform="translate(95.4,822) rotate(-45)">2024-11</text>
<text transform="translate(148.2,822) rotate(-45)">2024-12</text>
<text transform="translate(201,822) rotate(-45)">2025-01</text>
<text transform="translate(254.4,822) rotate(-45)">2025-02</text>
<text transform="translate(307.7,822) rotate(-45)">2025-03</text>
<text transform="translate(360.5,822) rotate(-45)">2025-04</text>
<text transform="translate(413.8,822) rotate(-45)">2025-05</text>
<text transform="translate(467.2,822) rotate(-45)">2025-06</text>
<text transform="translate(520,822) rotate(-45)">2025-07</text>
<text transform="translate(573.3,822) rotate(-45)">2025-08</text>
<text transform="translate(626.7,822) rotate(-45)">2025-09</text>
<text transform="translate(679.5,822) rotate(-45)">2025-10</text>
<text transform="translate(732.8,822) rotate(-45)">2025-11</text>
</g>
<text class="al" x="413" y="838.5">Month</text>
<text class="al" transform="translate(22.5,741) rotate(-90)">Score Contribution</text>

<!-- ============ Chart 10 heatmap ============ -->
<text class="ti" x="118.3" y="868.3">Monthly Returns Heatmap by Year</text>
<rect class="bg" x="40" y="877.3" width="156.7" height="135"/>
<path class="gr" stroke-width="0.6" d="M46.5 877.3V1012.3M59.6 877.3V1012.3M72.7 877.3V1012.3M85.7 877.3V1012.3M98.8 877.3V1012.3M111.8 877.3V1012.3M124.9 877.3V1012.3M138 877.3V1012.3M151 877.3V1012.3M164.1 877.3V1012.3M177.1 877.3V1012.3M190.2 877.3V1012.3M53.1 877.3V1012.3M66.1 877.3V1012.3M79.2 877.3V1012.3M92.2 877.3V1012.3M105.3 877.3V1012.3M118.4 877.3V1012.3M131.4 877.3V1012.3M144.5 877.3V1012.3M157.5 877.3V1012.3M170.6 877.3V1012.3M183.7 877.3V1012.3M40 911H196.7M40 978.5H196.7"/>
<g stroke="#fff" stroke-width="0.9">
<rect x="170.6" y="877.3" width="13.06" height="67.5" fill="#fece7b"/>
<rect x="183.66" y="877.3" width="13.06" height="67.5" fill="#ddf190"/>
<rect x="40" y="944.8" width="13.06" height="67.5" fill="#a50026"/>
<rect x="53.06" y="944.8" width="13.06" height="67.5" fill="#fca35c"/>
<rect x="66.12" y="944.8" width="13.06" height="67.5" fill="#61ba62"/>
<rect x="79.18" y="944.8" width="13.06" height="67.5" fill="#fee99a"/>
<rect x="92.24" y="944.8" width="13.06" height="67.5" fill="#36a657"/>
<rect x="105.3" y="944.8" width="13.06" height="67.5" fill="#aadb6c"/>
<rect x="118.36" y="944.8" width="13.06" height="67.5" fill="#c6e77f"/>
<rect x="131.42" y="944.8" width="13.06" height="67.5" fill="#fee99a"/>
<rect x="144.48" y="944.8" width="13.06" height="67.5" fill="#f4fbb0"/>
<rect x="157.54" y="944.8" width="13.06" height="67.5" fill="#fee390"/>
<rect x="170.6" y="944.8" width="13.06" height="67.5" fill="#e44c34"/>
</g>
<g class="pl" style="font-size:5.2px;fill:#262626">
<text x="177.13" y="912.8">-0.29</text><text x="190.19" y="912.8">0.19</text>
<text x="46.53" y="980.3" style="fill:#fff">-1.06</text><text x="59.59" y="980.3">-0.46</text><text x="72.65" y="980.3" style="fill:#fff">0.65</text><text x="85.71" y="980.3">-0.15</text><text x="98.77" y="980.3" style="fill:#fff">0.77</text><text x="111.83" y="980.3">0.41</text><text x="124.89" y="980.3">0.29</text><text x="137.95" y="980.3">-0.15</text><text x="151.01" y="980.3">0.06</text><text x="164.07" y="980.3">-0.19</text><text x="177.13" y="980.3" style="fill:#fff">-0.75</text>
</g>
<g class="tk m">
<text x="46.5" y="1021">1</text><text x="59.6" y="1021">2</text><text x="72.7" y="1021">3</text><text x="85.7" y="1021">4</text><text x="98.8" y="1021">5</text><text x="111.8" y="1021">6</text><text x="124.9" y="1021">7</text><text x="138" y="1021">8</text><text x="151" y="1021">9</text><text x="164.1" y="1021">10</text><text x="177.1" y="1021">11</text><text x="190.2" y="1021">12</text>
<text transform="translate(33,911) rotate(-90)">2024</text>
<text transform="translate(33,978.5) rotate(-90)">2025</text>
</g>
<text class="al" x="118" y="1028.7">Month</text>
<text class="al" transform="translate(25,945) rotate(-90)">Year</text>
<rect x="206.7" y="877.3" width="6.6" height="135" fill="url(#hm)"/>
<g class="tk">
<text x="217" y="881">0.75</text><text x="217" y="899.4">0.50</text><text x="217" y="917.9">0.25</text><text x="217" y="936.3">0.00</text><text x="217" y="954.7">−0.25</text><text x="217" y="973.1">−0.50</text><text x="217" y="991.6">−0.75</text><text x="217" y="1010">−1.00</text>
</g>
<text class="al" transform="translate(240,945) rotate(-90)">Avg Daily Return (%)</text>

<!-- ============ Chart 11 day of week ============ -->
<text class="ti" x="411.7" y="868.3">Day of Week Returns (Trading Days Only)</text>
<rect class="bg" x="314.3" y="876" width="195.7" height="136.3"/>
<path class="gr" d="M314.3 883.3H510M314.3 912.2H510M314.3 970.1H510M314.3 999H510M337.5 876V1012.3M374.7 876V1012.3M411.8 876V1012.3M449 876V1012.3M486.2 876V1012.3"/>
<g stroke="#fff" stroke-width="0.5">
<rect x="322.7" y="883.3" width="29.6" height="57.9" fill="#47a048"/>
<rect x="397" y="904.6" width="29.7" height="36.6" fill="#47a048"/>
<rect x="434.3" y="941.2" width="29.4" height="34.7" fill="#f94649"/>
<rect x="471.3" y="941.2" width="29.7" height="65.1" fill="#f94649"/>
</g>
<line x1="314.3" x2="510" y1="941.2" y2="941.2" stroke="#8a8a8a" stroke-width="1.4"/>
<g class="vl">
<text x="338.3" y="875.3">0.40%</text><text x="411.7" y="896">0.25%</text><text x="375" y="967">-0.00%</text><text x="449" y="1002">-0.24%</text><text x="486" y="1033">-0.45%</text>
</g>
<g class="tk">
<text class="e" x="311" y="885.3">0.4</text><text class="e" x="311" y="914.2">0.2</text><text class="e" x="311" y="943.2">0.0</text><text class="e" x="311" y="972.1">−0.2</text><text class="e" x="311" y="1001">−0.4</text>
</g>
<g class="tk m">
<text transform="translate(337.5,1023.4) rotate(-45)">Monday</text>
<text transform="translate(374.7,1024) rotate(-45)">Tuesday</text>
<text transform="translate(411.8,1026.8) rotate(-45)">Wednesday</text>
<text transform="translate(449,1024.6) rotate(-45)">Thursday</text>
<text transform="translate(486.2,1022) rotate(-45)">Friday</text>
</g>
<text class="al" x="411.7" y="1048.7">Day of Week</text>
<text class="al" transform="translate(295,944) rotate(-90)">Average Daily Return (%)</text>

<!-- ============ Chart 12 quarterly ============ -->
<text class="ti" x="685.7" y="867.5">Quarterly Returns</text>
<rect class="bg" x="588.3" y="876" width="195.7" height="136.3"/>
<path class="gr" d="M588.3 893.3H784M588.3 911H784M588.3 928.3H784M588.3 963.7H784M588.3 981.3H784M588.3 999H784M616 876V1012.3M662.7 876V1012.3M709.5 876V1012.3M756.3 876V1012.3"/>
<g stroke="#fff" stroke-width="0.5">
<rect x="597.3" y="946" width="37.4" height="59.9" fill="#f94649"/>
<rect x="644" y="882.6" width="37.3" height="63.4" fill="#47a048"/>
<rect x="690.7" y="931.9" width="37.6" height="14.1" fill="#47a048"/>
<rect x="737.7" y="946" width="37.3" height="19.4" fill="#f94649"/>
</g>
<line x1="588.3" x2="784" y1="946" y2="946" stroke="#8a8a8a" stroke-width="1.4"/>
<g class="vl">
<text x="662.7" y="874">0.36%</text><text x="709.3" y="922">0.08%</text><text x="756.7" y="996">-0.11%</text><text x="616" y="1037">-0.34%</text>
</g>
<g class="tk">
<text class="e" x="584" y="895.3">0.3</text><text class="e" x="584" y="913">0.2</text><text class="e" x="584" y="930.3">0.1</text><text class="e" x="584" y="948">0.0</text><text class="e" x="584" y="965.7">−0.1</text><text class="e" x="584" y="983.3">−0.2</text><text class="e" x="584" y="1001">−0.3</text>
<text class="m" x="616" y="1022">Q1</text><text class="m" x="662.7" y="1022">Q2</text><text class="m" x="709.5" y="1022">Q3</text><text class="m" x="756.3" y="1022">Q4</text>
</g>
<text class="al" x="681.7" y="1029.7">Quarter</text>
<text class="al" transform="translate(569.5,944) rotate(-90)">Average Daily Return (%)</text>
</svg>
</body></html>
